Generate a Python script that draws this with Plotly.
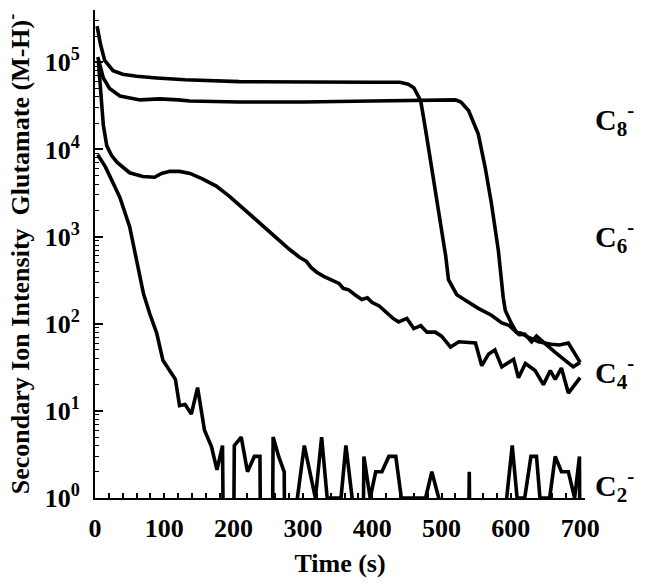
import plotly.graph_objects as go

# ---- data (time in s, counts) ----
c8_time = [3, 8, 14, 20, 26, 40, 60, 89, 130, 208, 300, 400, 440, 452, 460, 470, 478, 486, 493, 500,
           506, 510, 522, 535, 553, 572, 587, 597, 605, 612, 620, 630, 637, 650, 664, 690, 700]
c8_vals = [2.6e5, 1.6e5, 1.05e5, 9.0e4, 8.0e4, 7.3e4, 6.9e4, 6.6e4, 6.3e4, 6.0e4, 5.9e4, 5.9e4, 5.9e4,
           5.6e4, 5.1e4, 3.6e4, 1.5e4, 6.0e3, 2.6e3, 1.2e3, 600, 320, 215, 185, 150, 125, 102, 96,
           85, 75, 76, 62, 72, 58, 47, 32, 36]

c6_time = [4, 8, 12, 21, 36, 65, 93, 120, 137, 208, 300, 400, 510, 520, 528, 539, 553, 563, 572, 582,
           589, 592, 601, 608, 615, 625, 640, 658, 670, 683, 700]
c6_vals = [1.15e5, 8.5e4, 6.6e4, 5.0e4, 4.1e4, 3.7e4, 3.8e4, 3.7e4, 3.6e4, 3.5e4, 3.5e4, 3.6e4, 3.7e4,
           3.7e4, 3.5e4, 2.8e4, 1.5e4, 6.2e3, 2.4e3, 690, 200, 142, 100, 80, 78, 70, 62, 58, 57, 60, 36]

c4_time = [5, 9, 12, 17, 24, 32, 50, 69, 86, 96, 108, 122, 137, 155, 175, 194, 208, 220, 235, 250, 265,
           280, 295, 305, 312, 320, 330, 342, 352, 358, 366, 375, 385, 393, 400, 410, 420, 430, 438, 450,
           460, 470, 479, 491, 500, 513, 525, 549, 558, 568, 577, 587, 604, 611, 621, 635, 647, 657, 664,
           673, 683, 700]
c4_vals = [1.0e5, 4.0e4, 1.9e4, 1.1e4, 8.5e3, 7.1e3, 5.4e3, 4.9e3, 4.8e3, 5.3e3, 5.6e3, 5.6e3, 5.3e3,
           4.6e3, 3.8e3, 2.9e3, 2.3e3, 1.9e3, 1.5e3, 1150, 900, 720, 580, 520, 440, 390, 350, 320, 290,
           255, 245, 215, 190, 198, 175, 160, 135, 115, 105, 115, 88, 95, 80, 80, 72, 54, 62, 60, 33, 45,
           50, 32, 39, 24, 35, 29, 20, 29, 23, 31, 16, 24]

c2_time = [4, 15, 25, 36, 50, 57, 65, 70, 79, 89, 98, 104, 110, 116, 122, 130, 139, 148, 158, 168, 176,
           184, 188, 198, 201, 211, 220, 230, 238, 241, 254, 257, 265, 273, 276, 290, 292, 302, 318, 327,
           335, 355, 362, 371, 384, 388, 397, 405, 414, 424, 434, 442, 477, 486, 496, 536, 540, 544, 594,
           602, 609, 620, 629, 637, 642, 656, 664, 673, 683, 692, 699, 701]
c2_vals = [8700, 6300, 4300, 2800, 1300, 700, 310, 220, 130, 78, 38, 32, 28, 23, 11.5, 11.8, 9.2, 18.5,
           6.0, 3.9, 2.1, 4, 0, 0, 4, 5, 2, 3, 3, 0, 0, 5, 3, 2, 0, 0, 1, 4, 1, 5,
           1, 1, 4, 1, 0, 3, 1, 2, 2, 3, 3, 1, 1, 2, 1, 0, 2, 0, 1,
           4, 1, 1, 3, 3, 1, 1, 3, 2, 2, 1, 3, 0]

x_tick_vals = [0, 100, 200, 300, 400, 500, 600, 700]
y_tick_vals = [1, 10, 100, 1000, 10000, 100000]
y_tick_text = ["10<sup>0</sup>", "10<sup>1</sup>", "10<sup>2</sup>", "10<sup>3</sup>",
               "10<sup>4</sup>", "10<sup>5</sup>"]
labels = ["C<sub>8</sub><sup>-</sup>", "C<sub>6</sub><sup>-</sup>",
          "C<sub>4</sub><sup>-</sup>", "C<sub>2</sub><sup>-</sup>"]
label_y = [0.775, 0.535, 0.258, 0.025]

FONT = "Liberation Serif"
ZERO_FLOOR = 1e-3  # zero counts fall below the log axis floor


def floor(vals):
    return [v if v > 0 else ZERO_FLOOR for v in vals]


fig = go.Figure()
for t, v in [(c8_time, c8_vals), (c6_time, c6_vals), (c4_time, c4_vals), (c2_time, c2_vals)]:
    fig.add_trace(go.Scatter(x=t, y=floor(v), mode="lines",
                             line=dict(color="black", width=3.6), showlegend=False))

for txt, yy in zip(labels, label_y):
    fig.add_annotation(text=txt, xref="paper", yref="paper", x=1.016, y=yy,
                       xanchor="left", yanchor="middle", showarrow=False,
                       font=dict(family=FONT, size=30, color="black", weight="bold"))

minor_y = [m * 10 ** e for e in range(0, 6) for m in range(2, 10)]

fig.update_layout(
    width=645, height=587,
    margin=dict(l=95, r=60, t=10, b=89, autoexpand=False),
    paper_bgcolor="white", plot_bgcolor="white",
    font=dict(family=FONT, color="black"),
    xaxis=dict(range=[0, 707], showline=True, linecolor="black", linewidth=2,
               showgrid=False, zeroline=False, mirror=False, automargin=False,
               tickmode="array", tickvals=x_tick_vals,
               ticks="inside", ticklen=5, tickwidth=1.5, tickcolor="black",
               minor=dict(dtick=20, tick0=0, ticks="inside", ticklen=5, tickwidth=1.5,
                          tickcolor="black", showgrid=False),
               tickfont=dict(family=FONT, size=26, color="black", weight="bold"),
               ticklabelstandoff=6,
               title=dict(text="Time (s)", standoff=12,
                          font=dict(family=FONT, size=26, color="black", weight="bold"))),
    yaxis=dict(type="log", range=[0, 5.6], showline=True, linecolor="black", linewidth=2,
               showgrid=False, zeroline=False, mirror=False, automargin=False,
               tickmode="array", tickvals=y_tick_vals, ticktext=y_tick_text,
               ticks="inside", ticklen=8, tickwidth=1.5, tickcolor="black",
               minor=dict(tickvals=minor_y, ticks="inside", ticklen=4, tickwidth=1,
                          tickcolor="black", showgrid=False),
               tickfont=dict(family=FONT, size=26, color="black", weight="bold"),
               ticklabelstandoff=8,
               title=dict(text="Secondary Ion Intensity\u00a0 Glutamate (M-H)<sup>-</sup>",
                          standoff=8,
                          font=dict(family=FONT, size=26, color="black", weight="bold"))),
)

fig.write_html("out.html", config={"displayModeBar": False},
               post_script="document.body.style.margin='0';document.body.style.overflow='hidden';")
